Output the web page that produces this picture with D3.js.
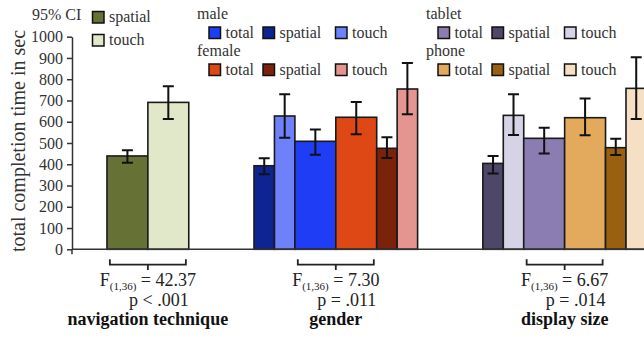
<!DOCTYPE html>
<html>
<head>
<meta charset="utf-8">
<script src="https://cdn.jsdelivr.net/npm/d3@7"></script>
<style>
  body { margin: 0; background: #fff; }
  svg { display: block; }
  svg text { font-family: "Liberation Serif", "Times New Roman", Times, serif; }
</style>
</head>
<body>
<svg id="chart" width="644" height="339"></svg>
<script>
// ---- data (seconds) ----
var factors = ['navigation technique', 'gender', 'display size'];
var fStats = ['42.37', '7.30', '6.67'];
var pStats = ['p < .001', 'p = .011', 'p = .014'];
var yTicks = [0, 100, 200, 300, 400, 500, 600, 700, 800, 900, 1000];

var navKeys  = ['spatial', 'touch'];
var navMean  = [439, 691];
var navLow   = [407, 613];
var navHigh  = [466, 767];

// order inside each level: total, spatial, touch
var subKeys    = ['total', 'spatial', 'touch'];
var maleMean   = [508, 393, 627];
var maleLow    = [445, 353, 525];
var maleHigh   = [563, 428, 729];
var femaleMean = [621, 475, 754];
var femaleLow  = [541, 429, 635];
var femaleHigh = [693, 527, 876];
var tabletMean = [522, 404, 630];
var tabletLow  = [451, 357, 538];
var tabletHigh = [572, 439, 729];
var phoneMean  = [619, 478, 757];
var phoneLow   = [536, 444, 613];
var phoneHigh  = [709, 520, 903];

var colors = {
  nav:    ['#667235', '#e1e7c9'],
  male:   ['#1f3df5', '#0e2492', '#6f81fa'],
  female: ['#dd4814', '#7b220a', '#e4958f'],
  tablet: ['#8b7db1', '#4f476a', '#d6d3e6'],
  phone:  ['#e3aa5d', '#98600f', '#f5e0c5']
};

var serif = '"Liberation Serif", "Times New Roman", Times, serif';
var svg = d3.select('#chart').attr('font-family', serif);
var axisLeft = 72, baseY = 249.3;

var y = d3.scaleLinear().domain([0, 1000]).range([baseY, 36.7]);
// x in "bar units": a side bar is 1 unit, a total / main bar 2 units
var unit = 20.45;
var x = d3.scaleLinear().domain([0, 30]).range([axisLeft, axisLeft + 30 * unit]);

// left level: spatial, touch, total ; right level: total, spatial, touch
function lvl(name, mean, low, high, col, order) {
  return order.map(function(i) {
    return {key: name + ' ' + subKeys[i], w: i === 0 ? 2 : 1, m: mean[i], lo: low[i], hi: high[i], c: col[i]};
  });
}
var leftOrder = [1, 2, 0], rightOrder = [0, 1, 2];

var groupBars = [
  navKeys.map(function(k, i) { return {key: k, w: 2, m: navMean[i], lo: navLow[i], hi: navHigh[i], c: colors.nav[i]}; }),
  lvl('male', maleMean, maleLow, maleHigh, colors.male, leftOrder)
    .concat(lvl('female', femaleMean, femaleLow, femaleHigh, colors.female, rightOrder)),
  lvl('tablet', tabletMean, tabletLow, tabletHigh, colors.tablet, leftOrder)
    .concat(lvl('phone', phoneMean, phoneLow, phoneHigh, colors.phone, rightOrder))
];

// lay out groups
var startPad = 1.71, gap = 3.19, pos = startPad;
var bars = [], centers = [];
groupBars.forEach(function(g) {
  var s = pos;
  g.forEach(function(b) { b.u0 = pos; pos += b.w; bars.push(b); });
  centers.push(x((s + pos) / 2));
  pos += gap;
});

// ---- axes ----
var yAxis = d3.axisLeft(y).tickValues(yTicks).tickFormat(d3.format('d'))
  .tickSize(5).tickSizeOuter(0).tickPadding(4);
var gy = svg.append('g').attr('transform', 'translate(' + axisLeft + ',0)').call(yAxis)
  .attr('font-family', serif).attr('font-size', 16);
gy.select('.domain').attr('stroke', '#333').attr('stroke-width', 1.5);
gy.selectAll('.tick line').attr('stroke', '#333').attr('stroke-width', 1.5);
gy.selectAll('.tick text').attr('fill', '#333');
svg.append('line').attr('x1', axisLeft).attr('x2', axisLeft).attr('y1', baseY).attr('y2', baseY + 5)
  .attr('stroke', '#333').attr('stroke-width', 1.5);

svg.append('text')
  .attr('transform', 'translate(25,141) rotate(-90)')
  .attr('text-anchor', 'middle')
  .attr('font-size', 20).attr('fill', '#333')
  .text('total completion time in sec');

// ---- bars ----
svg.append('g').selectAll('rect').data(bars).join('rect')
  .attr('x', function(d) { return x(d.u0); })
  .attr('width', function(d) { return x(d.u0 + d.w) - x(d.u0); })
  .attr('y', function(d) { return y(d.m); })
  .attr('height', function(d) { return baseY - y(d.m); })
  .attr('fill', function(d) { return d.c; })
  .attr('stroke', '#1a1a1a').attr('stroke-width', 1.6);

// error bars
var eb = svg.append('g').attr('stroke', '#111').attr('stroke-width', 2).attr('fill', 'none');
eb.selectAll('path').data(bars).join('path')
  .attr('d', function(d) {
    var cx = x(d.u0 + d.w / 2), t = y(d.hi), b = y(d.lo), h = 5.5;
    return 'M' + (cx - h) + ',' + t + 'H' + (cx + h) + 'M' + cx + ',' + t + 'V' + b + 'M' + (cx - h) + ',' + b + 'H' + (cx + h);
  });

// x baseline
svg.append('line').attr('x1', axisLeft).attr('x2', 644).attr('y1', baseY).attr('y2', baseY)
  .attr('stroke', '#333').attr('stroke-width', 1.5);

// ---- factor labels under groups ----
var lab = svg.append('g').selectAll('g').data(factors).join('g')
  .attr('transform', function(d, i) { return 'translate(' + centers[i] + ',0)'; });

lab.append('path')
  .attr('d', 'M-38,259.3V264.7H38V259.3M0,264.7V270')
  .attr('fill', 'none').attr('stroke', '#222').attr('stroke-width', 1.8);

var fText = lab.append('text').attr('y', 286).attr('text-anchor', 'middle')
  .attr('font-size', 18).attr('fill', '#222');
fText.append('tspan').text('F');
fText.append('tspan').attr('font-size', 11).attr('dy', 3.5).text('(1,36)');
fText.append('tspan').attr('dy', -3.5).text(function(d, i) { return ' = ' + fStats[i]; });

lab.append('text').attr('y', 306).attr('x', 11).attr('text-anchor', 'middle')
  .attr('font-size', 18).attr('fill', '#222')
  .text(function(d, i) { return pStats[i]; });

lab.append('text').attr('y', 325).attr('text-anchor', 'middle')
  .attr('font-size', 18).attr('font-weight', 'bold').attr('fill', '#111')
  .text(function(d) { return d; });

// ---- legends ----
var leg = svg.append('g').attr('font-size', 16).attr('fill', '#333');
function swatch(px, py, col, label) {
  leg.append('rect').attr('x', px).attr('y', py).attr('width', 11.5).attr('height', 11.5)
    .attr('fill', col).attr('stroke', '#111').attr('stroke-width', 1.5);
  leg.append('text').attr('x', px + 16.5).attr('y', py + 10.5).text(label);
}
leg.append('text').attr('x', 32).attr('y', 20).text('95% CI');
swatch(92.5, 11.5, colors.nav[0], navKeys[0]);
swatch(92.5, 34.5, colors.nav[1], navKeys[1]);

var legRows = [
  {name: 'male', x: 197, y: 19, col: colors.male},
  {name: 'female', x: 197, y: 56, col: colors.female},
  {name: 'tablet', x: 426, y: 19, col: colors.tablet},
  {name: 'phone', x: 426, y: 56, col: colors.phone}
];
var subOffsets = [12, 66, 138.5];
legRows.forEach(function(r) {
  leg.append('text').attr('x', r.x).attr('y', r.y).text(r.name);
  subKeys.forEach(function(k, i) {
    swatch(r.x + subOffsets[i], r.y + 8, r.col[i], k);
  });
});
</script>
</body>
</html>
